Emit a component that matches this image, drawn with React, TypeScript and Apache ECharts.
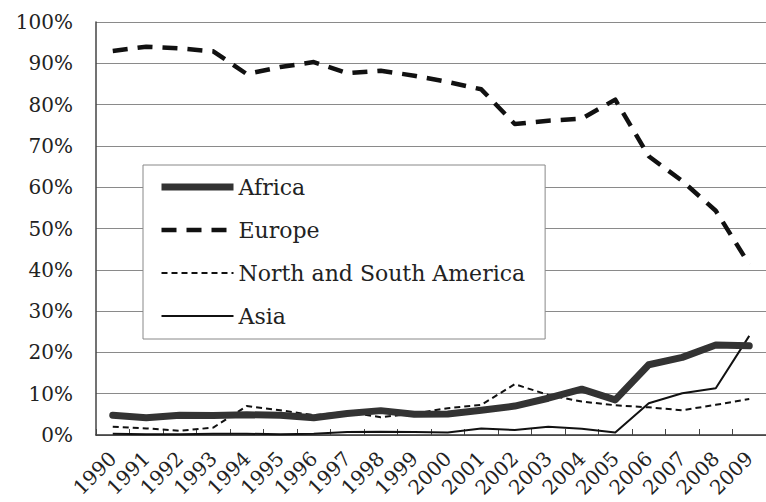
import React, { useEffect, useRef } from "react";
import * as echarts from "echarts";

const years = ["1990","1991","1992","1993","1994","1995","1996","1997","1998","1999","2000","2001","2002","2003","2004","2005","2006","2007","2008","2009"];
const africa = [4.8, 4.2, 4.8, 4.7, 4.9, 4.8, 4.2, 5.2, 5.9, 5.0, 5.1, 6.0, 7.0, 8.9, 11.1, 8.5, 17.0, 18.8, 21.8, 21.6];
const europe = [93.0, 94.0, 93.6, 92.9, 87.4, 89.1, 90.3, 87.6, 88.2, 87.0, 85.5, 83.7, 75.3, 76.1, 76.6, 81.2, 67.5, 61.5, 54.3, 41.3];
const americas = [2.0, 1.6, 1.0, 1.8, 7.0, 6.0, 4.8, 5.6, 4.3, 5.2, 6.5, 7.3, 12.3, 9.7, 8.1, 7.2, 6.7, 6.0, 7.3, 8.7];
const asia = [0.3, 0.2, 0.2, 0.3, 0.3, 0.2, 0.3, 0.7, 0.8, 0.7, 0.6, 1.6, 1.2, 2.0, 1.5, 0.6, 7.7, 10.1, 11.3, 24.0];
const seriesNames = ["Africa", "Europe", "North and South America", "Asia"];

const FONT = "DejaVu Serif";

export default function App() {
  const ref = useRef<HTMLDivElement>(null);
  useEffect(() => {
    if (!ref.current) return;
    const chart = echarts.init(ref.current, undefined, { renderer: "svg" });
    const styles = [
      { color: "#333", width: 7, type: "solid" as any },
      { color: "#111", width: 4.5, type: [15, 10] as any },
      { color: "#111", width: 2, type: [6, 4] as any },
      { color: "#111", width: 2, type: "solid" as any },
    ];
    const dataSets = [africa, europe, americas, asia];
    chart.setOption({
      animation: false,
      backgroundColor: "#fff",
      grid: { left: 96, top: 22, right: -10, bottom: 67, containLabel: false },
      legend: {
        orient: "vertical",
        left: 143,
        top: 165,
        backgroundColor: "#fff",
        borderColor: "#888",
        borderWidth: 1,
        borderRadius: 0,
        padding: [11, 20, 12, 15],
        itemWidth: 72,
        itemHeight: 14,
        itemGap: 21,
        textStyle: { fontFamily: FONT, fontSize: 22, color: "#222" },
        data: seriesNames.map((n, i) => ({
          name: n,
          lineStyle: { width: styles[i].width, type: styles[i].type, color: styles[i].color, cap: "butt" },
          itemStyle: { color: "rgba(0,0,0,0)", borderWidth: 0, opacity: 0 },
        })),
      },
      xAxis: {
        type: "category",
        data: years,
        boundaryGap: true,
        axisLine: { show: true, lineStyle: { color: "#333", width: 1.5 } },
        axisTick: { show: true, inside: true, length: 6, lineStyle: { color: "#444" } },
        axisLabel: {
          interval: 0,
          rotate: 45,
          margin: 20,
          fontFamily: FONT,
          fontSize: 20,
          color: "#222",
        },
        splitLine: { show: false },
      },
      yAxis: {
        type: "value",
        min: 0,
        max: 100,
        interval: 10,
        axisLine: { show: true, lineStyle: { color: "#444", width: 1.5 } },
        axisTick: { show: false },
        axisLabel: {
          formatter: "{value}%",
          margin: 23,
          fontFamily: FONT,
          fontSize: 20,
          color: "#222",
        },
        splitLine: { show: true, lineStyle: { color: "#8a8a8a", width: 1 } },
      },
      series: seriesNames.map((n, i) => ({
        name: n,
        type: "line",
        data: dataSets[i],
        symbol: "none",
        smooth: false,
        z: 10 - i,
        lineStyle: {
          color: styles[i].color,
          width: styles[i].width,
          type: styles[i].type,
          cap: i === 0 ? "round" : "butt",
          join: "round",
        },
        itemStyle: { color: styles[i].color },
      })),
    });
    return () => chart.dispose();
  }, []);
  return (
    <div
      ref={ref}
      style={{ position: "fixed", left: 0, top: 0, width: 766, height: 502, background: "#fff" }}
    />
  );
}
